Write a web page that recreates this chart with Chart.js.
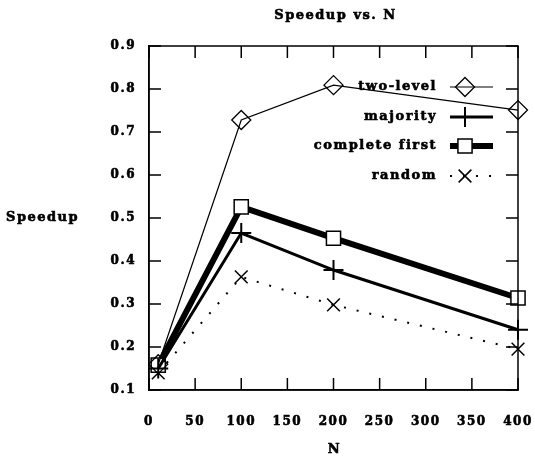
<!DOCTYPE html>
<html>
<head>
<meta charset="utf-8">
<script src="https://cdn.jsdelivr.net/npm/chart.js"></script>
<style>
  html, body { margin: 0; padding: 0; background: #fff; }
  #wrap { width: 535px; height: 460px; }
</style>
</head>
<body>
<div id="wrap"><canvas id="chart" width="535" height="460"></canvas></div>
<script>
// values
const nValues = [10, 100, 200, 400];
const twoLevel = [0.16, 0.728, 0.809, 0.751];
const majority = [0.15, 0.465, 0.379, 0.240];
const completeFirst = [0.158, 0.526, 0.453, 0.314];
const randomSel = [0.14, 0.363, 0.298, 0.195];

const xTicks = [0, 50, 100, 150, 200, 250, 300, 350, 400];
const yTicks = [0.1, 0.2, 0.3, 0.4, 0.5, 0.6, 0.7, 0.8, 0.9];

const FONT = 'DejaVu Serif';

function pts(ys) {
    return nValues.map((n, i) => ({ x: n, y: ys[i] }));
}

const datasets = [
    { label: 'two-level', data: pts(twoLevel), borderWidth: 1.2, pointStyle: 'rectRot', pointRadius: 9.5, pointBorderWidth: 1.3 },
    { label: 'majority', data: pts(majority), borderWidth: 3, pointStyle: 'cross', pointRadius: 10, pointBorderWidth: 2 },
    { label: 'complete first', data: pts(completeFirst), borderWidth: 6, pointStyle: 'rect', pointRadius: 10, pointBorderWidth: 1.5,
      pointBackgroundColor: '#fff' },
    { label: 'random', data: pts(randomSel), borderWidth: 2, borderDash: [2, 11], pointStyle: 'crossRot', pointRadius: 9, pointBorderWidth: 1.5 }
].map(d => Object.assign({
    borderColor: '#000',
    backgroundColor: 'rgba(0,0,0,0)',
    pointBorderColor: '#000',
    pointBackgroundColor: 'rgba(0,0,0,0)',
    tension: 0,
    fill: false,
    clip: false
}, d));

function heavyText(ctx, s, x, y) {
    ctx.fillText(s, x, y);
    ctx.strokeText(s, x, y);
}

// titles, inward tick marks, box and the legend
const decor = {
    id: 'decor',
    beforeDraw(chart) {
        chart.ctx.letterSpacing = '1.5px';
    },
    afterDatasetsDraw(chart) {
        const ctx = chart.ctx;
        const a = chart.chartArea;
        const xs = chart.scales.x, ys = chart.scales.y;
        ctx.save();
        ctx.strokeStyle = '#000';
        ctx.lineWidth = 1.5;
        ctx.strokeRect(a.left, a.top, a.right - a.left, a.bottom - a.top);
        const tl = 12;
        ctx.beginPath();
        xTicks.forEach(v => {
            const px = xs.getPixelForValue(v);
            ctx.moveTo(px, a.bottom); ctx.lineTo(px, a.bottom - tl);
            ctx.moveTo(px, a.top); ctx.lineTo(px, a.top + tl);
        });
        yTicks.forEach(v => {
            const py = ys.getPixelForValue(v);
            ctx.moveTo(a.left, py); ctx.lineTo(a.left + tl, py);
            ctx.moveTo(a.right, py); ctx.lineTo(a.right - tl, py);
        });
        ctx.stroke();

        ctx.fillStyle = '#000';
        ctx.font = 'bold 13px "' + FONT + '"';
        ctx.letterSpacing = '1.5px';
        ctx.lineWidth = 0.6;
        ctx.textBaseline = 'middle';
        ctx.textAlign = 'center';
        heavyText(ctx, 'Speedup vs. N', (a.left + a.right) / 2 + 2, 16);
        heavyText(ctx, 'N', (a.left + a.right) / 2 + 1, 450);
        ctx.textAlign = 'left';
        heavyText(ctx, 'Speedup', 6, (a.top + a.bottom) / 2);

        // legend
        const rowY = [87, 117, 146, 176];
        chart.data.datasets.forEach((ds, i) => {
            const y = rowY[i];
            ctx.textAlign = 'right';
            ctx.letterSpacing = '1.5px';
            ctx.lineWidth = 0.6;
            heavyText(ctx, ds.label, 437, y);
            ctx.letterSpacing = '0px';
            ctx.save();
            ctx.lineWidth = ds.borderWidth;
            ctx.setLineDash(ds.borderDash || []);
            ctx.beginPath();
            ctx.moveTo(450, y); ctx.lineTo(493, y);
            ctx.stroke();
            ctx.restore();
            ctx.save();
            ctx.strokeStyle = '#000';
            ctx.fillStyle = ds.pointBackgroundColor;
            ctx.lineWidth = ds.pointBorderWidth;
            Chart.helpers.drawPoint(ctx, {
                pointStyle: ds.pointStyle,
                radius: ds.pointRadius,
                rotation: 0,
                borderWidth: ds.pointBorderWidth
            }, 465, y);
            ctx.restore();
        });
        ctx.restore();
    }
};

const tickFont = { family: FONT, weight: 'bold', size: 12 };

new Chart(document.getElementById('chart'), {
    type: 'line',
    data: { datasets: datasets },
    options: {
        responsive: false,
        animation: false,
        layout: { padding: { top: 46, right: 17, bottom: 0, left: 0 } },
        plugins: { legend: { display: false }, title: { display: false }, tooltip: { enabled: false } },
        scales: {
            x: {
                type: 'linear',
                min: 0,
                max: 400,
                afterFit(s) { s.height = 70; s.paddingLeft = 0; s.paddingRight = 0; },
                afterBuildTicks(s) { s.ticks = xTicks.map(v => ({ value: v })); },
                grid: { display: false, drawTicks: false },
                border: { display: true, color: '#000', width: 1.5 },
                ticks: { color: '#000', padding: 25, maxRotation: 0, autoSkip: false,
                         textStrokeColor: '#000', textStrokeWidth: 0.6, font: tickFont }
            },
            y: {
                min: 0.1,
                max: 0.9,
                afterFit(s) { s.width = 149; s.paddingTop = 0; s.paddingBottom = 0; },
                afterBuildTicks(s) { s.ticks = yTicks.map(v => ({ value: v })); },
                grid: { display: false, drawTicks: false },
                border: { display: true, color: '#000', width: 1.5 },
                ticks: { color: '#000', padding: 13, autoSkip: false,
                         callback: v => v.toFixed(1),
                         textStrokeColor: '#000', textStrokeWidth: 0.6, font: tickFont }
            }
        }
    },
    plugins: [decor]
});
</script>
</body>
</html>
